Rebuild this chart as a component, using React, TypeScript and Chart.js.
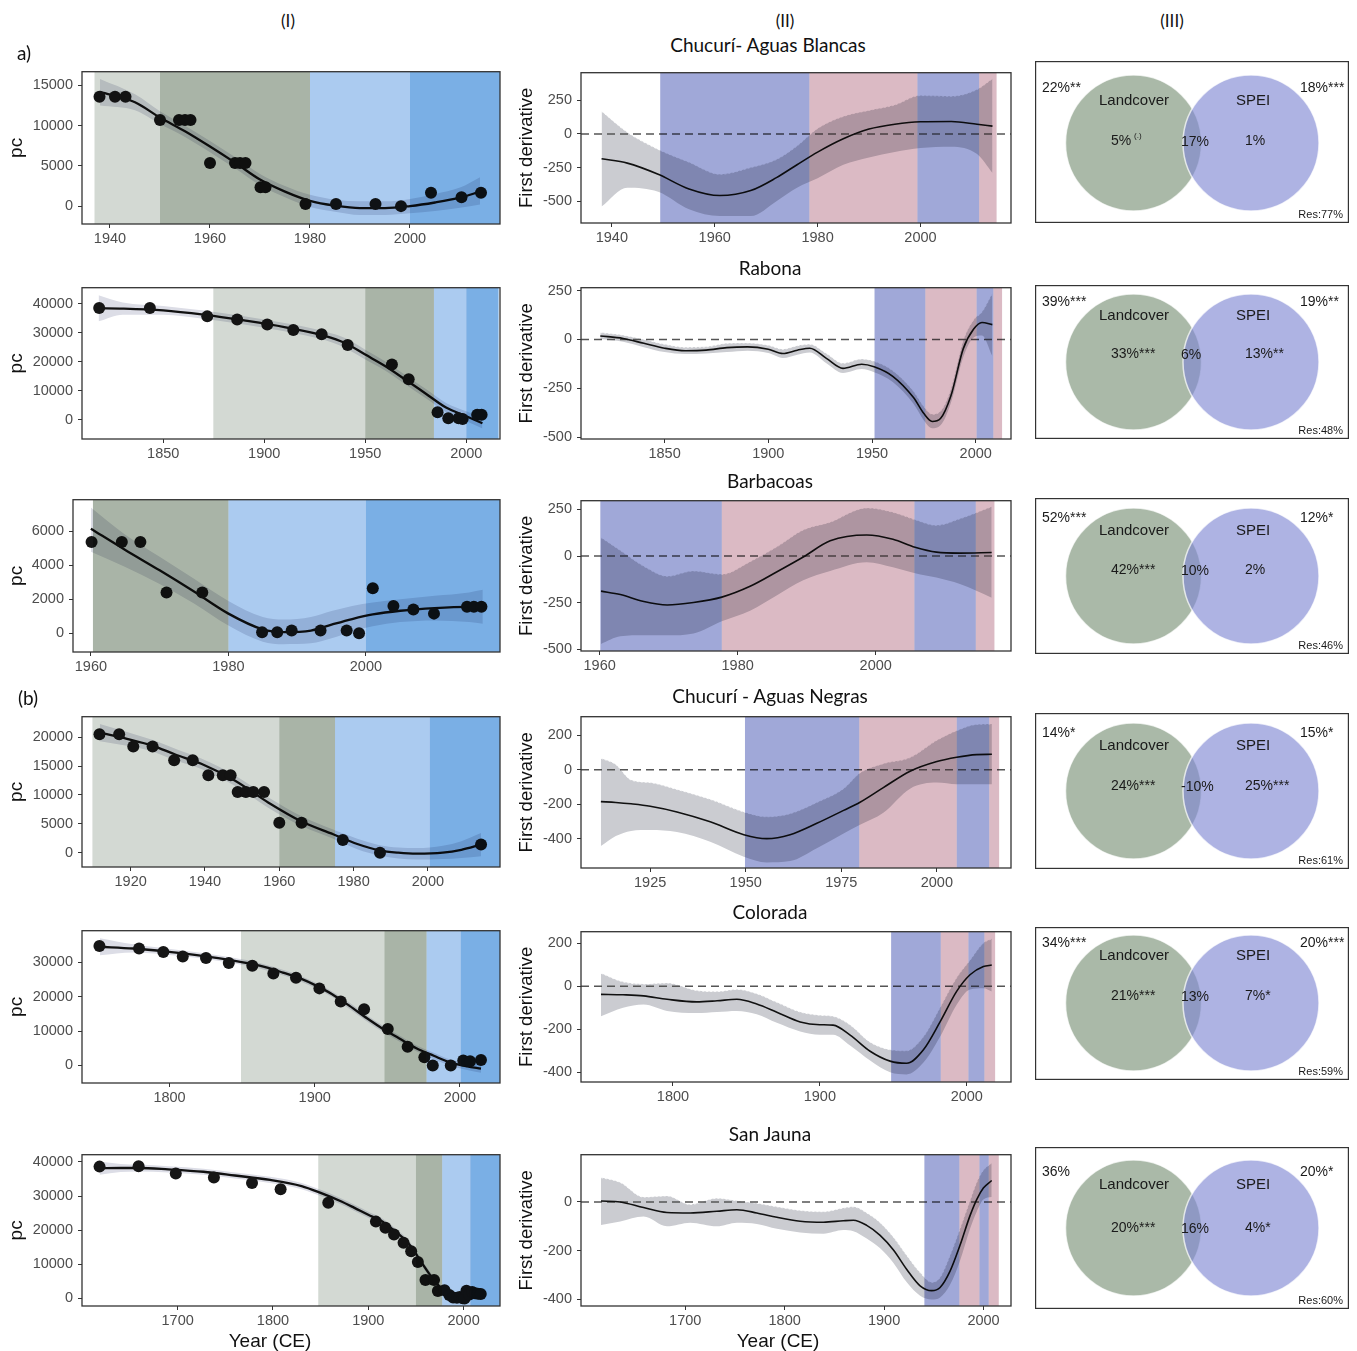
import React, { useEffect, useRef } from "react";
import { Chart, registerables } from "chart.js";
Chart.register(...registerables);

const TICK_FONT = "'Liberation Sans', Arial, Helvetica, sans-serif";
const HEAD_FONT = "Lato, 'Open Sans', 'Noto Sans', sans-serif";

// ---------------- text content ----------------
const COLUMN_HEADERS = ["(I)", "(II)", "(III)"];
const GROUP_LABELS = ["a)", "(b)"];
const SITE_NAMES = ["Chucurí- Aguas Blancas", "Rabona", "Barbacoas", "Chucurí - Aguas Negras", "Colorada", "San Jauna"];
const VENN_SETS = ["Landcover", "SPEI"];
const X_TITLE = "Year (CE)";

// ---------------- Row 1: Chucurí- Aguas Blancas ----------------
const r1PointYears = [1937.9, 1941, 1943.1, 1950, 1953.8, 1955, 1956.1, 1960, 1965, 1966, 1967.1, 1970.1, 1971.1, 1979.1, 1985.2, 1993.1, 1998.2, 2004.2, 2010.3, 2014.2];
const r1PointPc = [13600, 13600, 13600, 10700, 10700, 10700, 10700, 5350, 5350, 5350, 5350, 2350, 2350, 250, 250, 250, 0, 1650, 1100, 1650];
const r1FitYears = [1938, 1945, 1950, 1955, 1960, 1965, 1970, 1975, 1980, 1985, 1990, 1995, 2000, 2005, 2010, 2014];
const r1FitPc = [14200, 12900, 11000, 9300, 7400, 5400, 3300, 1800, 650, 50, -250, -250, 0, 450, 1050, 1800];
const r1FitHi = [15800, 13900, 11800, 10000, 8100, 6100, 4000, 2500, 1400, 800, 600, 600, 900, 1500, 2300, 3600];
const r1FitLo = [12500, 11900, 10200, 8600, 6700, 4700, 2600, 1100, -100, -700, -1100, -1100, -900, -600, -200, 200];
const r1PcBandEdges = [1936.9, 1950, 1980, 2000, 2018];
const r1PcBandKinds = ["lightGreen", "darkGreen", "lightBlue", "blue"];
const r1PcXRange = [1934.4, 2018];
const r1PcYRange = [-2220, 16700];
const r1PcXTicks = [1940, 1960, 1980, 2000];
const r1PcYTicks = [0, 5000, 10000, 15000];
const r1DerivYears = [1938, 1943, 1949, 1955, 1961, 1967, 1972, 1976, 1980, 1985, 1990, 1995, 2000, 2006, 2011, 2014];
const r1Deriv = [-185, -217, -300, -409, -458, -421, -325, -229, -135, -36, 36, 72, 90, 92, 72, 58];
const r1DerivHi = [169, 12, -115, -210, -300, -250, -190, -90, 40, 130, 175, 215, 285, 280, 330, 410];
const r1DerivLo = [-540, -400, -430, -560, -610, -610, -500, -400, -330, -230, -175, -135, -105, -95, -150, -290];
const r1DerivBandEdges = [1949.4, 1978.4, 1999.4, 2011.4, 2014.8];
const r1DerivBandKinds = ["blue", "pink", "blue", "pink"];
const r1DerivXRange = [1934.0, 2017.6];
const r1DerivYRange = [-662, 455];
const r1DerivXTicks = [1940, 1960, 1980, 2000];
const r1DerivYTicks = [-500, -250, 0, 250];
const r1Venn = ["22%**", "18%***", "5%", "17%", "1%", "Res:77%"];
const r1VennNote = "(.)";

// ---------------- Row 2: Rabona ----------------
const r2PointYears = [1818.3, 1843.4, 1871.8, 1886.6, 1901.5, 1914.4, 1928.4, 1941.3, 1963.2, 1971.5, 1985.8, 1991.1, 1996.2, 1998.2, 2005.4, 2007.6];
const r2PointPc = [38600, 38600, 35700, 34600, 32900, 31000, 29500, 25800, 19100, 14000, 2600, 550, 550, 300, 1700, 1700];
const r2FitYears = [1818, 1830, 1850, 1870, 1890, 1910, 1930, 1940, 1950, 1960, 1970, 1980, 1990, 2000, 2008];
const r2FitPc = [38500, 38400, 37800, 36300, 34300, 32000, 29000, 26500, 22500, 18500, 13800, 9000, 4200, 1200, -1200];
const r2FitHi = [43000, 40500, 39300, 37700, 35700, 33400, 30500, 28200, 24200, 20100, 15400, 10600, 5800, 2900, 600];
const r2FitLo = [34000, 36300, 36300, 34900, 32900, 30600, 27500, 24800, 20800, 16900, 12200, 7400, 2600, -500, -3000];
const r2PcBandEdges = [1874.8, 1950, 1984, 2000, 2016];
const r2PcBandKinds = ["lightGreen", "darkGreen", "lightBlue", "blue"];
const r2PcXRange = [1809.8, 2016.7];
const r2PcYRange = [-6640, 45600];
const r2PcXTicks = [1850, 1900, 1950, 2000];
const r2PcYTicks = [0, 10000, 20000, 30000, 40000];
const r2DerivYears = [1819, 1830, 1840, 1850, 1860, 1870, 1880, 1890, 1900, 1907, 1914, 1920, 1928, 1936, 1945, 1951, 1960, 1970, 1975, 1979, 1983, 1988, 1994, 1999, 2003, 2008];
const r2Deriv = [18, 5, -20, -45, -58, -55, -42, -38, -50, -72, -55, -45, -97, -148, -127, -140, -189, -298, -380, -420, -405, -290, -47, 53, 87, 76];
const r2DerivHi = [35, 22, 0, -25, -40, -38, -20, -18, -30, -50, -32, -25, -72, -122, -100, -112, -160, -265, -345, -383, -368, -255, -5, 100, 140, 235];
const r2DerivLo = [2, -12, -40, -65, -75, -72, -65, -58, -70, -95, -78, -67, -122, -172, -152, -168, -218, -330, -415, -455, -440, -325, -90, 10, 20, -85];
const r2DerivBandEdges = [1951.2, 1975.7, 2000.4, 2008.5, 2012.7];
const r2DerivBandKinds = ["blue", "pink", "blue", "pink"];
const r2DerivXRange = [1809.7, 2017];
const r2DerivYRange = [-510, 265];
const r2DerivXTicks = [1850, 1900, 1950, 2000];
const r2DerivYTicks = [-500, -250, 0, 250];
const r2Venn = ["39%***", "19%**", "33%***", "6%", "13%**", "Res:48%"];

// ---------------- Row 3: Barbacoas ----------------
const r3PointYears = [1960.1, 1964.5, 1967.2, 1971, 1976.2, 1984.9, 1987.1, 1989.2, 1993.4, 1997.2, 1999, 2001, 2004, 2006.9, 2009.9, 2014.7, 2015.7, 2016.8];
const r3PointPc = [5370, 5370, 5370, 2400, 2400, 60, 60, 155, 155, 155, 0, 2650, 1600, 1400, 1150, 1550, 1550, 1550];
const r3FitYears = [1960, 1965, 1970, 1975, 1980, 1985, 1988, 1992, 1995, 1998, 2001, 2005, 2010, 2015, 2017];
const r3FitPc = [6150, 4900, 3700, 2450, 1150, 220, 60, 150, 500, 830, 1100, 1320, 1480, 1550, 1550];
const r3FitHi = [7400, 5800, 4500, 3200, 1900, 950, 800, 950, 1300, 1600, 1800, 2000, 2200, 2400, 2550];
const r3FitLo = [4800, 3900, 2900, 1750, 450, -500, -650, -600, -300, 100, 400, 650, 750, 650, 550];
const r3PcBandEdges = [1960.3, 1980, 2000, 2019.5];
const r3PcBandKinds = ["darkGreen", "lightBlue", "blue"];
const r3PcXRange = [1957.4, 2019.5];
const r3PcYRange = [-1110, 7860];
const r3PcXTicks = [1960, 1980, 2000];
const r3PcYTicks = [0, 2000, 4000, 6000];
const r3DerivYears = [1960.2, 1963, 1966.4, 1969.8, 1973.6, 1977.7, 1981.8, 1985.7, 1989.5, 1993.4, 1998.7, 2002.5, 2005.7, 2008.8, 2012.2, 2016.8];
const r3Deriv = [-188, -206, -244, -262, -249, -220, -162, -84, -5, 82, 113, 90, 47, 21, 16, 19];
const r3DerivHi = [99, 30, -55, -108, -80, -98, -30, 50, 140, 182, 258, 235, 195, 165, 200, 265];
const r3DerivLo = [-471, -430, -425, -425, -415, -350, -293, -210, -130, -80, -33, -60, -92, -115, -150, -223];
const r3DerivBandEdges = [1960.1, 1977.7, 2005.6, 2014.5, 2017.2];
const r3DerivBandKinds = ["blue", "pink", "blue", "pink"];
const r3DerivXRange = [1957.3, 2019.6];
const r3DerivYRange = [-509, 297];
const r3DerivXTicks = [1960, 1980, 2000];
const r3DerivYTicks = [-500, -250, 0, 250];
const r3Venn = ["52%***", "12%*", "42%***", "10%", "2%", "Res:46%"];

// ---------------- Row 4: Chucurí - Aguas Negras ----------------
const r4PointYears = [1911.6, 1916.9, 1920.7, 1925.9, 1931.7, 1936.7, 1940.9, 1944.8, 1946.9, 1948.8, 1951, 1953, 1955.9, 1960, 1966, 1977.1, 1987.1, 2014.3];
const r4PointPc = [20500, 20500, 18400, 18400, 16000, 16000, 13400, 13400, 13400, 10500, 10500, 10500, 10500, 5200, 5200, 2200, 0, 1400];
const r4FitYears = [1911.7, 1919, 1926, 1932, 1939, 1948, 1957, 1966, 1974.5, 1981, 1987, 1992, 1997, 2004, 2009, 2014.3];
const r4FitPc = [20780, 19700, 18500, 17000, 15400, 12500, 8700, 5400, 3200, 1500, 400, 0, -170, 0, 500, 1400];
const r4FitHi = [22300, 20900, 19500, 18000, 16300, 13400, 9600, 6300, 4000, 2400, 1300, 900, 800, 1200, 2000, 3400];
const r4FitLo = [19300, 18500, 17500, 16000, 14500, 11600, 7800, 4600, 2400, 600, -500, -1000, -1200, -1100, -900, -600];
const r4PcBandEdges = [1909.7, 1960, 1975, 2000.5, 2019.4];
const r4PcBandKinds = ["lightGreen", "darkGreen", "lightBlue", "blue"];
const r4PcXRange = [1906.9, 2019.4];
const r4PcYRange = [-2480, 23550];
const r4PcXTicks = [1920, 1940, 1960, 1980, 2000];
const r4PcYTicks = [0, 5000, 10000, 15000, 20000];
const r4DerivYears = [1912.1, 1916, 1920, 1925, 1932, 1940.7, 1949.5, 1955.5, 1961.6, 1968.6, 1975.6, 1979.9, 1986, 1993, 2000, 2005.2, 2010.4, 2014.4];
const r4Deriv = [-185, -190, -198, -212, -245, -302, -377, -400, -377, -311, -236, -189, -104, -9, 47, 72, 87, 89];
const r4DerivHi = [66, 30, -60, -75, -115, -172, -245, -273, -255, -190, -110, -19, 35, 70, 170, 226, 262, 264];
const r4DerivLo = [-443, -385, -355, -350, -362, -418, -505, -538, -530, -455, -370, -320, -250, -110, -75, -85, -85, -85];
const r4DerivBandEdges = [1949.8, 1979.7, 2005.2, 2013.7, 2016.3];
const r4DerivBandKinds = ["blue", "pink", "blue", "pink"];
const r4DerivXRange = [1906.9, 2019.4];
const r4DerivYRange = [-570, 307];
const r4DerivXTicks = [1925, 1950, 1975, 2000];
const r4DerivYTicks = [-400, -200, 0, 200];
const r4Venn = ["14%*", "15%*", "24%***", "-10%", "25%***", "Res:61%"];

// ---------------- Row 5: Colorada ----------------
const r5PointYears = [1751.7, 1779, 1795.7, 1809.1, 1825.1, 1840.8, 1857, 1871.5, 1887.1, 1903.2, 1917.9, 1934, 1950.3, 1964, 1975.5, 1981.3, 1993.7, 2002.3, 2007, 2014.5];
const r5PointPc = [34700, 33970, 33000, 31700, 31200, 29800, 29000, 26700, 25500, 22400, 18600, 16300, 10600, 5400, 2360, 0, 0, 1400, 1200, 1600];
const r5FitYears = [1752, 1775, 1798, 1820, 1844, 1862, 1878, 1890, 1901, 1912, 1924, 1936, 1947, 1958, 1970, 1982, 1993, 2005, 2014.5];
const r5FitPc = [34500, 34000, 33100, 32000, 30500, 29000, 27000, 25300, 23200, 20700, 17300, 13700, 10600, 7900, 5000, 2800, 900, -300, -950];
const r5FitHi = [37000, 35200, 34000, 32800, 31300, 29800, 27800, 26100, 24000, 21500, 18200, 14600, 11500, 8800, 5900, 3700, 1800, 700, 250];
const r5FitLo = [32000, 32800, 32200, 31200, 29700, 28200, 26200, 24500, 22400, 19900, 16400, 12800, 9700, 7000, 4100, 1900, 0, -1300, -2150];
const r5PcBandEdges = [1849.2, 1948, 1977, 2000.5, 2027.6];
const r5PcBandKinds = ["lightGreen", "darkGreen", "lightBlue", "blue"];
const r5PcXRange = [1739.7, 2027.6];
const r5PcYRange = [-5110, 39170];
const r5PcXTicks = [1800, 1900, 2000];
const r5PcYTicks = [0, 10000, 20000, 30000];
const r5DerivYears = [1751, 1766, 1780, 1796, 1816, 1830, 1843.5, 1857, 1870.7, 1886.6, 1900, 1909, 1920.6, 1934.2, 1947.8, 1959, 1970.5, 1981.8, 1993.2, 2002.2, 2011.3, 2017];
const r5Deriv = [-38, -40, -45, -61, -73, -68, -61, -83, -121, -166, -179, -181, -227, -302, -348, -358, -295, -166, -23, 53, 91, 98];
const r5DerivHi = [60, 20, 10, 15, -20, -25, -15, -35, -75, -120, -135, -140, -180, -260, -295, -300, -235, -100, 40, 120, 200, 220];
const r5DerivLo = [-140, -100, -85, -115, -125, -120, -115, -130, -170, -210, -225, -225, -275, -345, -400, -410, -355, -235, -85, -15, -10, -25];
const r5DerivBandEdges = [1948.5, 1982.3, 2001.1, 2012, 2019.3];
const r5DerivBandKinds = ["blue", "pink", "blue", "pink"];
const r5DerivXRange = [1737.4, 2030.1];
const r5DerivYRange = [-445, 253];
const r5DerivXTicks = [1800, 1900, 2000];
const r5DerivYTicks = [-400, -200, 0, 200];
const r5Venn = ["34%***", "20%***", "21%***", "13%", "7%*", "Res:59%"];

// ---------------- Row 6: San Jauna ----------------
const r6PointYears = [1618, 1659, 1698, 1738, 1778, 1808, 1858, 1908, 1918, 1927, 1937, 1945, 1952, 1960, 1969, 1973, 1980, 1985, 1989, 1993, 1996, 1999, 2001, 2003, 2006, 2009, 2012, 2015, 2018];
const r6PointPc = [38600, 38700, 36600, 35400, 33800, 32000, 28000, 22500, 20700, 18700, 16300, 13800, 10700, 5400, 5400, 2200, 2400, 1000, 300, 200, 400, 100, 0, 2300, 1200, 1900, 1500, 1400, 1300];
const r6FitYears = [1618, 1640, 1659, 1690, 1727, 1760, 1797, 1830, 1850, 1870, 1885, 1900, 1913, 1925, 1937, 1946, 1955, 1964, 1972, 1980, 1990, 2000, 2007, 2013, 2018];
const r6FitPc = [38100, 38200, 38200, 37800, 37100, 36000, 34700, 32900, 30900, 28600, 26600, 24500, 22800, 20400, 17600, 14800, 10900, 7200, 4300, 2200, 950, 500, 460, 900, 1430];
const r6FitHi = [40000, 39400, 39200, 38700, 38000, 36900, 35600, 33800, 31800, 29500, 27500, 25400, 23700, 21300, 18500, 15700, 11800, 8100, 5200, 3100, 1850, 1400, 1400, 1900, 2600];
const r6FitLo = [36200, 37000, 37200, 36900, 36200, 35100, 33800, 32000, 30000, 27700, 25700, 23600, 21900, 19500, 16700, 13900, 10000, 6300, 3400, 1300, 50, -400, -500, -100, 300];
const r6PcBandEdges = [1847.5, 1950, 1977.5, 2007, 2038.2];
const r6PcBandKinds = ["lightGreen", "darkGreen", "lightBlue", "blue"];
const r6PcXRange = [1599.6, 2038.2];
const r6PcYRange = [-2200, 42090];
const r6PcXTicks = [1700, 1800, 1900, 2000];
const r6PcYTicks = [0, 10000, 20000, 30000, 40000];
const r6DerivYears = [1615.3, 1634.7, 1658.1, 1681.6, 1705, 1731.8, 1752, 1772, 1792.2, 1815.6, 1839, 1859, 1869.1, 1882.5, 1896, 1909.4, 1922.8, 1936.2, 1947.9, 1956.3, 1966.3, 1976.4, 1986.4, 1993.1, 1999.8, 2008.2];
const r6Deriv = [4, 0, -23, -43, -45, -38, -32, -45, -63, -79, -83, -77, -75, -96, -137, -197, -277, -344, -364, -351, -284, -177, -56, 10, 57, 88];
const r6DerivHi = [100, 80, 20, 25, -10, 15, 5, -5, -20, -35, -40, -25, -20, -45, -85, -145, -220, -290, -330, -310, -220, -110, 5, 80, 130, 160];
const r6DerivLo = [-95, -80, -60, -100, -85, -100, -85, -90, -110, -125, -130, -115, -120, -150, -190, -250, -330, -385, -400, -392, -340, -240, -110, -40, 10, 20];
const r6DerivBandEdges = [1940.5, 1975.7, 1995.8, 2005.2, 2015.3];
const r6DerivBandKinds = ["blue", "pink", "blue", "pink"];
const r6DerivXRange = [1595.2, 2027.6];
const r6DerivYRange = [-427, 194];
const r6DerivXTicks = [1700, 1800, 1900, 2000];
const r6DerivYTicks = [-400, -200, 0];
const r6Venn = ["36%", "20%*", "20%***", "16%", "4%*", "Res:60%"];

// ---------------- styles ----------------
const BAND_COLORS: Record<string, string> = {
  lightGreen: "#d3d9d3",
  darkGreen: "#a9b4a7",
  lightBlue: "#abcbf0",
  blue: "#7aafe5",
  pink: "#dbbac4",
};
const DERIV_BAND_BLUE = "#a0a8d8";
const PC_RIBBON = "#dcdde6";
const DERIV_RIBBON = "#cbccd1";

// ---------------- layout (pixels) ----------------
const PC_PLOT_TB = [[68, 224], [284, 439], [496, 652], [713, 867], [927, 1083], [1151, 1306]];
const PC_PLOT_LEFT = [82, 82, 73, 82, 82, 82];
const PC_PLOT_RIGHT = 500;
const DV_PLOT_TB = [[69, 223], [284, 439], [497, 651], [713, 868], [928, 1082], [1151, 1306]];
const DV_PLOT_LEFT = 581;
const DV_PLOT_RIGHT = 1011;
const VENN_LEFT = 1035;
const VENN_WIDTH = 314;
const VENN_BOX = [[61, 162], [285, 154], [498, 156], [713, 156], [927, 153], [1147, 162]];
// per row: circle centre y, corner-label y, set-name y, value y (relative to box top)
const VENN_Y = [[82, 27, 40, 80], [77, 17, 31, 69], [78, 20, 33, 72], [78, 20, 33, 73], [76, 16, 29, 69], [81, 25, 38, 81]];
const TITLE_POS = [[768, 44], [770, 267], [770, 480], [770, 695], [770, 911], [770, 1133]];
const PAGE_H = 1351;

const ROWS = [
  { px: r1PointYears, py: r1PointPc, fx: r1FitYears, fy: r1FitPc, fhi: r1FitHi, flo: r1FitLo, pb: r1PcBandEdges, pk: r1PcBandKinds, pxr: r1PcXRange, pyr: r1PcYRange, pxt: r1PcXTicks, pyt: r1PcYTicks, dx: r1DerivYears, dy: r1Deriv, dhi: r1DerivHi, dlo: r1DerivLo, db: r1DerivBandEdges, dk: r1DerivBandKinds, dxr: r1DerivXRange, dyr: r1DerivYRange, dxt: r1DerivXTicks, dyt: r1DerivYTicks, venn: r1Venn, note: r1VennNote },
  { px: r2PointYears, py: r2PointPc, fx: r2FitYears, fy: r2FitPc, fhi: r2FitHi, flo: r2FitLo, pb: r2PcBandEdges, pk: r2PcBandKinds, pxr: r2PcXRange, pyr: r2PcYRange, pxt: r2PcXTicks, pyt: r2PcYTicks, dx: r2DerivYears, dy: r2Deriv, dhi: r2DerivHi, dlo: r2DerivLo, db: r2DerivBandEdges, dk: r2DerivBandKinds, dxr: r2DerivXRange, dyr: r2DerivYRange, dxt: r2DerivXTicks, dyt: r2DerivYTicks, venn: r2Venn, note: "" },
  { px: r3PointYears, py: r3PointPc, fx: r3FitYears, fy: r3FitPc, fhi: r3FitHi, flo: r3FitLo, pb: r3PcBandEdges, pk: r3PcBandKinds, pxr: r3PcXRange, pyr: r3PcYRange, pxt: r3PcXTicks, pyt: r3PcYTicks, dx: r3DerivYears, dy: r3Deriv, dhi: r3DerivHi, dlo: r3DerivLo, db: r3DerivBandEdges, dk: r3DerivBandKinds, dxr: r3DerivXRange, dyr: r3DerivYRange, dxt: r3DerivXTicks, dyt: r3DerivYTicks, venn: r3Venn, note: "" },
  { px: r4PointYears, py: r4PointPc, fx: r4FitYears, fy: r4FitPc, fhi: r4FitHi, flo: r4FitLo, pb: r4PcBandEdges, pk: r4PcBandKinds, pxr: r4PcXRange, pyr: r4PcYRange, pxt: r4PcXTicks, pyt: r4PcYTicks, dx: r4DerivYears, dy: r4Deriv, dhi: r4DerivHi, dlo: r4DerivLo, db: r4DerivBandEdges, dk: r4DerivBandKinds, dxr: r4DerivXRange, dyr: r4DerivYRange, dxt: r4DerivXTicks, dyt: r4DerivYTicks, venn: r4Venn, note: "" },
  { px: r5PointYears, py: r5PointPc, fx: r5FitYears, fy: r5FitPc, fhi: r5FitHi, flo: r5FitLo, pb: r5PcBandEdges, pk: r5PcBandKinds, pxr: r5PcXRange, pyr: r5PcYRange, pxt: r5PcXTicks, pyt: r5PcYTicks, dx: r5DerivYears, dy: r5Deriv, dhi: r5DerivHi, dlo: r5DerivLo, db: r5DerivBandEdges, dk: r5DerivBandKinds, dxr: r5DerivXRange, dyr: r5DerivYRange, dxt: r5DerivXTicks, dyt: r5DerivYTicks, venn: r5Venn, note: "" },
  { px: r6PointYears, py: r6PointPc, fx: r6FitYears, fy: r6FitPc, fhi: r6FitHi, flo: r6FitLo, pb: r6PcBandEdges, pk: r6PcBandKinds, pxr: r6PcXRange, pyr: r6PcYRange, pxt: r6PcXTicks, pyt: r6PcYTicks, dx: r6DerivYears, dy: r6Deriv, dhi: r6DerivHi, dlo: r6DerivLo, db: r6DerivBandEdges, dk: r6DerivBandKinds, dxr: r6DerivXRange, dyr: r6DerivYRange, dxt: r6DerivXTicks, dyt: r6DerivYTicks, venn: r6Venn, note: "" },
];

type PanelSpec = {
  left: number; top: number; width: number; height: number;
  padL: number; padR: number; padT: number; yAxisW: number; xAxisH: number;
  xRange: number[]; yRange: number[]; xTicks: number[]; yTicks: number[];
  yTitle: string; yTitleSize: number;
  fx: number[]; fy: number[]; fhi: number[]; flo: number[];
  ptx?: number[]; pty?: number[];
  bandEdges: number[]; bandColors: string[];
  ribbon: string; ribbonEdge: boolean; lineW: number; zeroLine: boolean;
};

const zip = (xs: number[], ys: number[]) => xs.map((x, i) => ({ x, y: ys[i] }));

function xyConfig(s: PanelSpec): any {
  const edge = s.ribbonEdge
    ? { borderWidth: 1, borderColor: "rgba(255,255,255,0.85)", borderDash: [2, 2] }
    : { borderWidth: 0 };
  const datasets: any[] = [
    { data: zip(s.fx, s.flo), ...edge, pointRadius: 0, fill: false, cubicInterpolationMode: "monotone", order: 5 },
    { data: zip(s.fx, s.fhi), ...edge, pointRadius: 0, fill: "-1", backgroundColor: s.ribbon, cubicInterpolationMode: "monotone", order: 4 },
  ];
  if (s.zeroLine) {
    datasets.push({ data: [{ x: s.xRange[0], y: 0 }, { x: s.xRange[1], y: 0 }], borderColor: "#555555", borderWidth: 1.5, borderDash: [8, 5], pointRadius: 0, fill: false, order: 3 });
  }
  datasets.push({ data: zip(s.fx, s.fy), borderColor: "#111111", borderWidth: s.lineW, pointRadius: 0, fill: false, cubicInterpolationMode: "monotone", order: 2 });
  if (s.ptx && s.pty) {
    datasets.push({ data: zip(s.ptx, s.pty), showLine: false, pointRadius: 6, pointHoverRadius: 6, pointBackgroundColor: "#161616", pointBorderWidth: 0, order: 1 });
  }
  const bands = {
    id: "bands",
    afterDatasetsDraw(chart: any) {
      const { ctx, chartArea: a, scales } = chart;
      const x = scales.x;
      ctx.save();
      ctx.beginPath();
      ctx.rect(a.left, a.top, a.right - a.left, a.bottom - a.top);
      ctx.clip();
      ctx.globalCompositeOperation = "multiply";
      for (let i = 0; i < s.bandColors.length; i++) {
        const x0 = x.getPixelForValue(s.bandEdges[i]);
        const x1 = x.getPixelForValue(s.bandEdges[i + 1]);
        ctx.fillStyle = s.bandColors[i];
        ctx.fillRect(x0, a.top, x1 - x0, a.bottom - a.top);
      }
      ctx.restore();
    },
  };
  const frame = {
    id: "frame",
    afterDraw(chart: any) {
      const { ctx, chartArea: a } = chart;
      ctx.save();
      ctx.strokeStyle = "#333333";
      ctx.lineWidth = 1.3;
      ctx.strokeRect(a.left, a.top, a.right - a.left, a.bottom - a.top);
      ctx.restore();
    },
  };
  const tickFont = { family: TICK_FONT, size: 14.5 };
  const grid = { display: true, drawOnChartArea: false, drawTicks: true, tickLength: 4, color: "#333333" };
  return {
    type: "line",
    data: { datasets },
    options: {
      responsive: false,
      animation: false,
      events: [],
      layout: { autoPadding: false, padding: { left: s.padL, right: s.padR, top: s.padT, bottom: 0 } },
      plugins: { legend: { display: false }, tooltip: { enabled: false } },
      scales: {
        x: {
          type: "linear", position: "bottom", min: s.xRange[0], max: s.xRange[1],
          afterBuildTicks: (sc: any) => { sc.ticks = s.xTicks.map((v) => ({ value: v })); },
          afterFit: (sc: any) => { sc.height = s.xAxisH; },
          ticks: { callback: (v: any) => String(v), font: tickFont, color: "#4d4d4d", padding: 2, maxRotation: 0, autoSkip: false },
          grid, border: { display: false },
        },
        y: {
          type: "linear", position: "left", min: s.yRange[0], max: s.yRange[1],
          afterBuildTicks: (sc: any) => { sc.ticks = s.yTicks.map((v) => ({ value: v })); },
          afterFit: (sc: any) => { sc.width = s.yAxisW; },
          ticks: { callback: (v: any) => String(v), font: tickFont, color: "#4d4d4d", padding: 5, autoSkip: false },
          grid, border: { display: false },
          title: { display: true, text: s.yTitle, font: { family: TICK_FONT, size: s.yTitleSize }, color: "#111111", padding: { top: 0, bottom: 0 } },
        },
      },
    },
    plugins: [bands, frame],
  };
}

type VennItem = { t: string; x: number; y: number; align: string; size: number };
type VennSpec = { left: number; top: number; width: number; height: number; cy: number; items: VennItem[] };

function vennConfig(v: VennSpec): any {
  const text = {
    id: "vennText",
    afterDatasetsDraw(chart: any) {
      const { ctx, scales } = chart;
      ctx.save();
      ctx.fillStyle = "#1a1a1a";
      ctx.textBaseline = "middle";
      for (const it of v.items) {
        ctx.font = `${it.size}px ${TICK_FONT}`;
        ctx.textAlign = it.align;
        ctx.fillText(it.t, scales.x.getPixelForValue(it.x), scales.y.getPixelForValue(it.y));
      }
      ctx.restore();
    },
  };
  const frame = {
    id: "vframe",
    afterDraw(chart: any) {
      const { ctx } = chart;
      ctx.save();
      ctx.strokeStyle = "#333333";
      ctx.lineWidth = 1.2;
      ctx.strokeRect(0.6, 0.6, v.width - 1.2, v.height - 1.2);
      ctx.restore();
    },
  };
  return {
    type: "bubble",
    data: {
      datasets: [
        { data: [{ x: 98.5, y: v.cy, r: 68 }], backgroundColor: "#aab9a8", borderColor: "rgba(255,255,255,0.7)", borderWidth: 1.5, order: 2 },
        { data: [{ x: 216, y: v.cy, r: 68 }], backgroundColor: "rgba(127,134,210,0.63)", borderColor: "rgba(255,255,255,0.7)", borderWidth: 1.5, order: 1 },
      ],
    },
    options: {
      responsive: false, animation: false, events: [],
      layout: { autoPadding: false, padding: 0 },
      plugins: { legend: { display: false }, tooltip: { enabled: false } },
      scales: {
        x: { type: "linear", display: false, min: 0, max: v.width },
        y: { type: "linear", display: false, min: 0, max: v.height, reverse: true },
      },
    },
    plugins: [text, frame],
  };
}

function ChartCanvas(props: { left: number; top: number; width: number; height: number; make: () => any }) {
  const ref = useRef<HTMLCanvasElement>(null);
  useEffect(() => {
    const chart = new Chart(ref.current as HTMLCanvasElement, props.make());
    return () => chart.destroy();
  }, []);
  return (
    <canvas
      ref={ref}
      width={props.width}
      height={props.height}
      style={{ position: "absolute", left: props.left, top: props.top, width: props.width, height: props.height }}
    />
  );
}

function Label(props: { x: number; y: number; text: string; size: number; family: string; color?: string }) {
  return (
    <div
      style={{
        position: "absolute", left: props.x, top: props.y, transform: "translate(-50%, -50%)",
        fontFamily: props.family, fontSize: props.size, lineHeight: 1, whiteSpace: "nowrap",
        color: props.color || "#111111",
      }}
    >
      {props.text}
    </div>
  );
}

export default function App() {
  const panels: any[] = [];
  ROWS.forEach((r, i) => {
    const last = i === ROWS.length - 1;
    const padT = 10;
    // column I
    const [t1, b1] = PC_PLOT_TB[i];
    const xH1 = last ? PAGE_H - b1 : 30;
    const pc: PanelSpec = {
      left: 0, top: t1 - padT, width: PC_PLOT_RIGHT + 5, height: b1 - t1 + padT + xH1,
      padL: 5, padR: 5, padT, yAxisW: PC_PLOT_LEFT[i] - 5, xAxisH: xH1,
      xRange: r.pxr, yRange: r.pyr, xTicks: r.pxt, yTicks: r.pyt,
      yTitle: "pc", yTitleSize: 19,
      fx: r.fx, fy: r.fy, fhi: r.fhi, flo: r.flo, ptx: r.px, pty: r.py,
      bandEdges: r.pb, bandColors: r.pk.map((k) => BAND_COLORS[k]),
      ribbon: PC_RIBBON, ribbonEdge: false, lineW: 2.3, zeroLine: false,
    };
    panels.push(<ChartCanvas key={"pc" + i} left={pc.left} top={pc.top} width={pc.width} height={pc.height} make={() => xyConfig(pc)} />);
    // column II
    const [t2, b2] = DV_PLOT_TB[i];
    const xH2 = last ? PAGE_H - b2 : 30;
    const dv: PanelSpec = {
      left: 510, top: t2 - padT, width: DV_PLOT_RIGHT + 4 - 510, height: b2 - t2 + padT + xH2,
      padL: 6, padR: 4, padT, yAxisW: DV_PLOT_LEFT - 516, xAxisH: xH2,
      xRange: r.dxr, yRange: r.dyr, xTicks: r.dxt, yTicks: r.dyt,
      yTitle: "First derivative", yTitleSize: 18.5,
      fx: r.dx, fy: r.dy, fhi: r.dhi, flo: r.dlo,
      bandEdges: r.db, bandColors: r.dk.map((k) => (k === "blue" ? DERIV_BAND_BLUE : BAND_COLORS.pink)),
      ribbon: DERIV_RIBBON, ribbonEdge: true, lineW: 1.6, zeroLine: true,
    };
    panels.push(<ChartCanvas key={"dv" + i} left={dv.left} top={dv.top} width={dv.width} height={dv.height} make={() => xyConfig(dv)} />);
    // column III
    const [vt, vh] = VENN_BOX[i];
    const [cy, yCorner, yName, yVal] = VENN_Y[i];
    const items: VennItem[] = [
      { t: r.venn[0], x: 7, y: yCorner, align: "left", size: 14 },
      { t: r.venn[1], x: 265, y: yCorner, align: "left", size: 14 },
      { t: VENN_SETS[0], x: 99, y: yName, align: "center", size: 15 },
      { t: VENN_SETS[1], x: 218, y: yName, align: "center", size: 15 },
      { t: r.venn[2], x: 76, y: yVal, align: "left", size: 14 },
      { t: r.venn[3], x: 146, y: yVal + 1, align: "left", size: 14 },
      { t: r.venn[4], x: 210, y: yVal, align: "left", size: 14 },
      { t: r.venn[5], x: 308, y: vh - 8, align: "right", size: 11 },
    ];
    if (r.note) items.push({ t: r.note, x: 99, y: yVal - 5, align: "left", size: 8 });
    const vs: VennSpec = { left: VENN_LEFT, top: vt, width: VENN_WIDTH, height: vh, cy, items };
    panels.push(<ChartCanvas key={"vn" + i} left={vs.left} top={vs.top} width={vs.width} height={vs.height} make={() => vennConfig(vs)} />);
  });

  return (
    <div style={{ position: "absolute", left: 0, top: 0, width: 1357, height: PAGE_H, background: "#ffffff", overflow: "hidden" }}>
      {panels}
      <Label x={288} y={20} text={COLUMN_HEADERS[0]} size={17} family={HEAD_FONT} />
      <Label x={785} y={20} text={COLUMN_HEADERS[1]} size={17} family={HEAD_FONT} />
      <Label x={1172} y={20} text={COLUMN_HEADERS[2]} size={17} family={HEAD_FONT} />
      <Label x={24} y={52} text={GROUP_LABELS[0]} size={19} family={HEAD_FONT} />
      <Label x={28} y={697} text={GROUP_LABELS[1]} size={19} family={HEAD_FONT} />
      {SITE_NAMES.map((n, i) => (
        <Label key={n} x={TITLE_POS[i][0]} y={TITLE_POS[i][1]} text={n} size={19} family={HEAD_FONT} />
      ))}
      <Label x={270} y={1340} text={X_TITLE} size={19} family={TICK_FONT} />
      <Label x={778} y={1340} text={X_TITLE} size={19} family={TICK_FONT} />
    </div>
  );
}
